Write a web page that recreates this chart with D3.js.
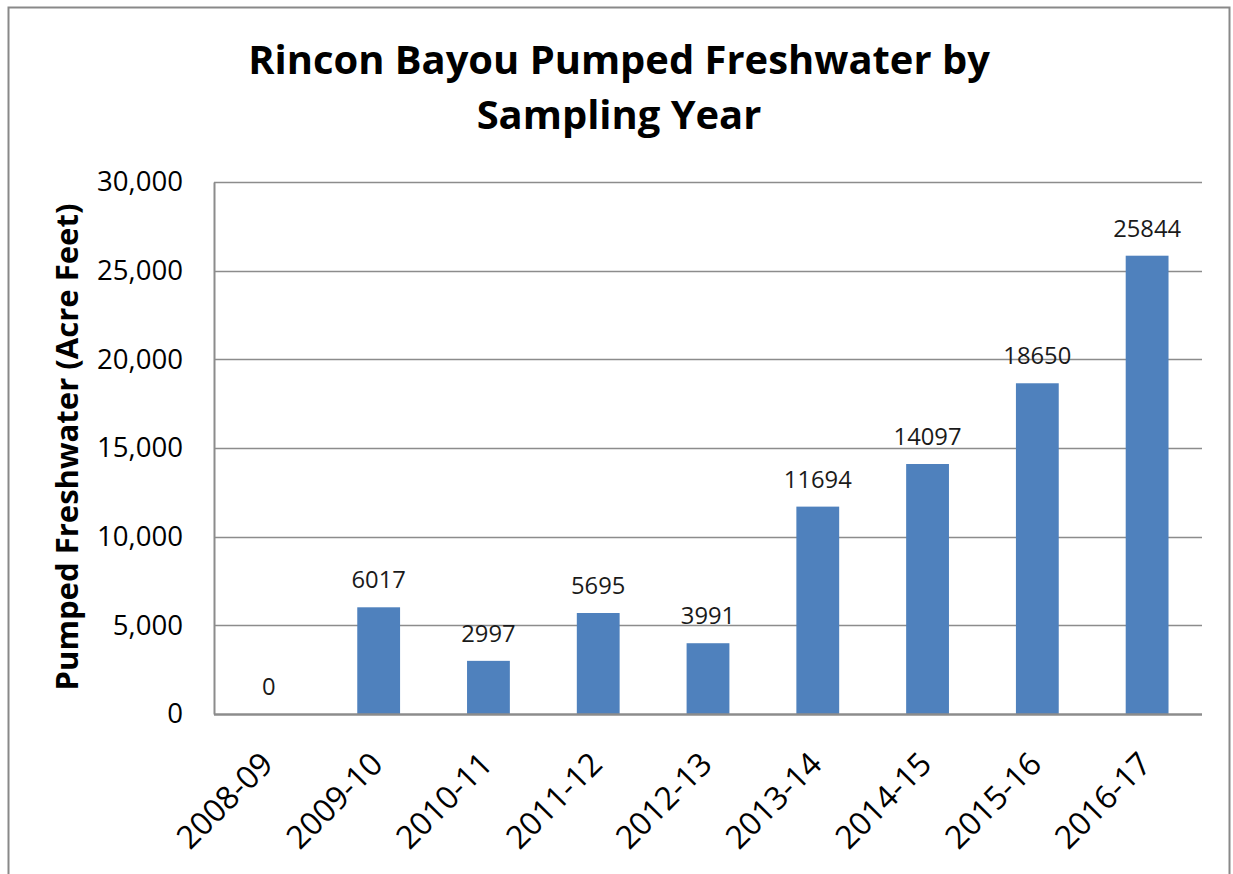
<!DOCTYPE html>
<html><head><meta charset="utf-8">
<script src="https://cdn.jsdelivr.net/npm/d3@7"></script>
<style>html,body{margin:0;padding:0;background:#fff}</style>
</head><body>
<svg id="c" width="1233" height="874"></svg>
<script>
const categories = ["2008-09","2009-10","2010-11","2011-12","2012-13","2013-14","2014-15","2015-16","2016-17"];
const values = [0,6017,2997,5695,3991,11694,14097,18650,25844];
const yTicks = [0,5000,10000,15000,20000,25000,30000];
const titleLines = ["Rincon Bayou Pumped Freshwater by","Sampling Year"];
const yLabel = "Pumped Freshwater (Acre Feet)";

const FONT = "'Open Sans', 'DejaVu Sans', sans-serif";
const svg = d3.select("#c");
const m = {left:214, right:1202, top:182, bottom:714};

function fit(sel, target){
  const w = sel.node().getComputedTextLength();
  const fs = parseFloat(sel.attr("font-size"));
  sel.attr("font-size", (fs*target/w).toFixed(2));
}

// outer border
svg.append("rect").attr("x",8.5).attr("y",7.5).attr("width",1221).attr("height",900)
  .attr("fill","#fff").attr("stroke","#898989").attr("stroke-width",2);

const x = d3.scaleBand().domain(categories).range([m.left,m.right]).paddingInner(0.61).paddingOuter(0.305);
const y = d3.scaleLinear().domain([0,30000]).range([m.bottom,m.top]);

// gridlines
svg.append("g").selectAll("line").data(yTicks.filter(d=>d>0)).join("line")
  .attr("x1",m.left).attr("x2",m.right)
  .attr("y1",d=>Math.round(y(d))+0.5).attr("y2",d=>Math.round(y(d))+0.5)
  .attr("stroke","#8c8c8c").attr("stroke-width",1.5);

// y axis
const yAxis = svg.append("g").attr("transform",`translate(${m.left},0)`)
  .call(d3.axisLeft(y).tickValues(yTicks).tickSize(0).tickPadding(31).tickFormat(d3.format(",")));
yAxis.select(".domain").attr("stroke","#8c8c8c").attr("stroke-width",2);
yAxis.selectAll("text").attr("font-family",FONT).attr("font-size",24).attr("fill","#000");
{
  const t = yAxis.selectAll("text").filter(d=>d===25000);
  const w = t.node().getComputedTextLength();
  yAxis.selectAll("text").attr("font-size",(24*86/w).toFixed(2));
}

// bars
svg.append("g").selectAll("rect").data(values).join("rect")
  .attr("x",(d,i)=>x(categories[i])).attr("width",x.bandwidth())
  .attr("y",d=>y(d)).attr("height",d=>y(0)-y(d))
  .attr("fill","#4f81bd");

// x axis
const xAxis = svg.append("g").attr("transform",`translate(0,${m.bottom})`)
  .call(d3.axisBottom(x).tickSize(0).tickPadding(0));
xAxis.select(".domain").attr("stroke","#8c8c8c").attr("stroke-width",2.5).attr("d",`M${m.left},0.5H${m.right}`);
xAxis.selectAll("text").attr("font-family",FONT).attr("font-size",24).attr("fill","#000")
  .attr("text-anchor","end").attr("dy",0).attr("y",0)
  .attr("transform","translate(6,52) rotate(-45)");
{
  const t = xAxis.selectAll("text").filter(d=>d==="2016-17");
  const w = t.node().getComputedTextLength();
  xAxis.selectAll("text").attr("font-size",(24*120/w).toFixed(2));
}

// data labels
const dl = svg.append("g").selectAll("text").data(values).join("text")
  .attr("x",(d,i)=>x(categories[i])+x.bandwidth()/2).attr("y",d=>y(d)-19)
  .attr("text-anchor","middle").attr("font-family",FONT).attr("font-size",20).attr("fill","#1a1a1a")
  .text(d=>d);
{
  const w = dl.filter(d=>d===25844).node().getComputedTextLength();
  dl.attr("font-size",(20*68/w).toFixed(2));
}

// title
const tl = svg.append("g").selectAll("text").data(titleLines).join("text")
  .attr("x",619).attr("y",(d,i)=>74+i*55)
  .attr("text-anchor","middle").attr("font-family",FONT).attr("font-weight","bold")
  .attr("font-size",36).attr("fill","#000").text(d=>d);
{
  const w = tl.filter((d,i)=>i===0).node().getComputedTextLength();
  tl.attr("font-size",(36*742/w).toFixed(2));
}

// y label
const yl = svg.append("text").attr("transform",`translate(78,447) rotate(-90)`)
  .attr("text-anchor","middle").attr("font-family",FONT).attr("font-weight","bold")
  .attr("font-size",26).attr("fill","#000").text(yLabel);
fit(yl,487);
</script>
</body></html>
